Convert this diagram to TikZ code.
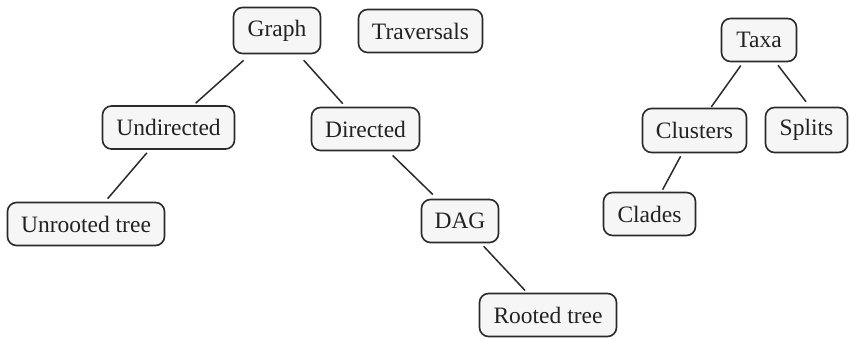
\documentclass[tikz,border=0pt]{standalone}
\usepackage{fontspec}
\setmainfont{Liberation Serif}
\newfontfamily\boxfont{Liberation Serif}
\definecolor{boxfill}{HTML}{F6F6F6}
\definecolor{boxline}{HTML}{2A2A2A}
\definecolor{txt}{HTML}{222222}
\begin{document}
\begin{tikzpicture}[x=1pt,y=-1pt,
  tbox/.style={draw=boxline, fill=boxfill, line width=1.6pt, rounded corners=9pt,
    inner sep=0pt, text=txt, font=\boxfont\fontsize{23.5}{28}\selectfont, minimum height=43pt},
  link/.style={draw=boxline, line width=1.5pt}]
\useasboundingbox (0,0) rectangle (849,339);
\node[tbox, minimum width=87pt, minimum height=46pt] (graph) at (277,30.5) {Graph};
\node[tbox, minimum width=124pt] (trav) at (420.5,31) {Traversals};
\node[tbox, minimum width=132pt] (undir) at (168.5,127.5) {Undirected};
\node[tbox, minimum width=108pt] (dir) at (365.5,129) {Directed};
\node[tbox, minimum width=157pt] (unroot) at (86,224) {Unrooted tree};
\node[tbox, minimum width=77pt] (dag) at (460,221) {DAG};
\node[tbox, minimum width=137pt] (root) at (548,315) {Rooted tree};
\node[tbox, minimum width=75pt] (taxa) at (759,40) {Taxa};
\node[tbox, minimum width=104pt, minimum height=44pt] (clus) at (694.5,130.5) {Clusters};
\node[tbox, minimum width=82pt, minimum height=45pt] (splits) at (806.5,130) {Splits};
\node[tbox, minimum width=92pt] (clades) at (649.5,214) {Clades};
\draw[link, shorten <=9pt, shorten >=3pt] (graph) -- (undir);
\draw[link, shorten <=8pt, shorten >=4pt] (graph) -- (dir);
\draw[link, shorten <=4pt, shorten >=4pt] (undir) -- (unroot);
\draw[link, shorten <=6pt, shorten >=6pt] (dir) -- (dag);
\draw[link, shorten <=4pt, shorten >=3pt] (dag) -- (root);
\draw[link, shorten <=4pt, shorten >=1pt] (taxa) -- (clus);
\draw[link] ([xshift=19pt,yshift=-3pt]taxa.south) -- ([xshift=-0.5pt,yshift=5pt]splits.north);
\draw[link, shorten <=3.4pt, shorten >=2.3pt] (clus) -- (clades);
\end{tikzpicture}
\end{document}
